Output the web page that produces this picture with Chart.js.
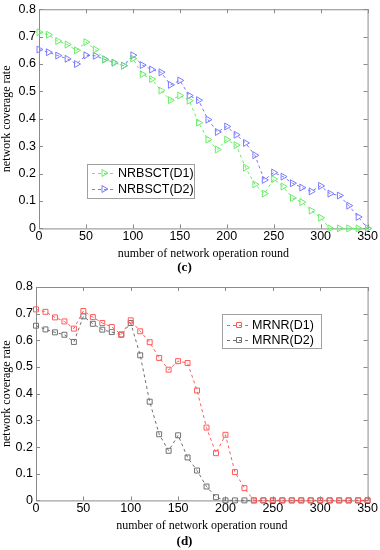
<!DOCTYPE html>
<html>
<head>
<meta charset="utf-8">
<script src="https://cdn.jsdelivr.net/npm/chart.js@4.4.1/dist/chart.umd.min.js"></script>
<style>
  body { margin: 0; background: #fff; }
  canvas { display: block; }
</style>
</head>
<body>
<canvas id="chartC" width="380" height="275"></canvas>
<canvas id="chartD" width="380" height="275"></canvas>
<script>
// rounds (x values), shared by both panels
const rounds = [0, 10, 20, 30, 40, 50, 60, 70, 80, 90, 100, 110, 120, 130, 140, 150, 160, 170,
  180, 190, 200, 210, 220, 230, 240, 250, 260, 270, 280, 290, 300, 310, 320, 330, 340, 350];

// panel (c)
const nrbsctD1 = [0.716, 0.707, 0.684, 0.671, 0.650, 0.680, 0.653, 0.617, 0.605, 0.594, 0.620, 0.563,
  0.545, 0.503, 0.468, 0.485, 0.466, 0.386, 0.324, 0.288, 0.324, 0.304, 0.222, 0.161, 0.127, 0.180,
  0.153, 0.111, 0.096, 0.065, 0.039, 0, 0, 0, 0, 0];
const nrbsctD2 = [0.653, 0.643, 0.631, 0.619, 0.600, 0.632, 0.630, 0.617, 0.605, 0.594, 0.632, 0.596,
  0.580, 0.570, 0.524, 0.540, 0.485, 0.468, 0.397, 0.352, 0.372, 0.342, 0.312, 0.267, 0.177, 0.204,
  0.189, 0.165, 0.149, 0.135, 0.155, 0.127, 0.120, 0.083, 0.042, 0];

// panel (d)
const mrnrD1 = [0.716, 0.707, 0.686, 0.671, 0.644, 0.710, 0.687, 0.665, 0.650, 0.622, 0.675, 0.634,
  0.593, 0.534, 0.490, 0.522, 0.515, 0.412, 0.273, 0.177, 0.246, 0.106, 0.046, 0, 0, 0,
  0, 0, 0, 0, 0, 0, 0, 0, 0, 0];
const mrnrD2 = [0.655, 0.641, 0.630, 0.621, 0.594, 0.690, 0.662, 0.640, 0.631, 0.621, 0.665, 0.544,
  0.370, 0.248, 0.186, 0.244, 0.161, 0.112, 0.052, 0.012, 0, 0, 0, 0, 0, 0,
  0, 0, 0, 0, 0, 0, 0, 0, 0, 0];

const xTickLabels = ['0', '50', '100', '150', '200', '250', '300', '350'];
const yTickLabels = ['0', '0.1', '0.2', '0.3', '0.4', '0.5', '0.6', '0.7', '0.8'];

function toPoints(values) {
  return values.map((v, i) => ({ x: rounds[i], y: v }));
}

// MATLAB-like box with inward ticks on all sides
const frameBox = {
  id: 'frameBox',
  beforeDatasetsDraw(chart) {
    const { ctx, chartArea: a, scales } = chart;
    ctx.save();
    ctx.strokeStyle = '#8a8a8a';
    ctx.lineWidth = 1;
    ctx.strokeRect(a.left + 0.5, a.top + 0.5, a.right - a.left, a.bottom - a.top);
    const len = 4;
    ctx.beginPath();
    scales.x.ticks.forEach(t => {
      const px = Math.round(scales.x.getPixelForValue(t.value)) + 0.5;
      ctx.moveTo(px, a.bottom); ctx.lineTo(px, a.bottom - len);
      ctx.moveTo(px, a.top); ctx.lineTo(px, a.top + len);
    });
    scales.y.ticks.forEach(t => {
      const py = Math.round(scales.y.getPixelForValue(t.value)) + 0.5;
      ctx.moveTo(a.left, py); ctx.lineTo(a.left + len, py);
      ctx.moveTo(a.right, py); ctx.lineTo(a.right - len, py);
    });
    ctx.stroke();
    ctx.restore();
  }
};

// legend drawn inside the plot area with a light frame
const boxLegend = {
  id: 'boxLegend',
  afterDatasetsDraw(chart, args, opts) {
    const { ctx } = chart;
    ctx.save();
    ctx.fillStyle = '#fff';
    ctx.fillRect(opts.x, opts.y, opts.w, opts.h);
    ctx.strokeStyle = '#a0a0a0';
    ctx.lineWidth = 1;
    ctx.strokeRect(opts.x + 0.5, opts.y + 0.5, opts.w, opts.h);
    chart.data.datasets.forEach((ds, i) => {
      const cy = opts.y + opts.rowTop + i * opts.rowGap;
      ctx.strokeStyle = ds.borderColor;
      ctx.lineWidth = 1;
      ctx.setLineDash([3, 3]);
      ctx.beginPath();
      ctx.moveTo(opts.x + 5, cy + 0.5);
      ctx.lineTo(opts.x + 28, cy + 0.5);
      ctx.stroke();
      ctx.setLineDash([]);
      ctx.fillStyle = 'rgba(0,0,0,0)';
      Chart.helpers.drawPoint(ctx, {
        pointStyle: ds.pointStyle, radius: ds.pointRadius, rotation: ds.pointRotation || 0, borderWidth: 1
      }, opts.x + 17, cy);
      ctx.fillStyle = '#000';
      ctx.font = '12.5px "Liberation Sans", Arial, sans-serif';
      ctx.textBaseline = 'middle';
      ctx.fillText(ds.label, opts.textX, cy + 1);
    });
    ctx.restore();
  }
};

function makeChart(id, datasets, cfg) {
  return new Chart(document.getElementById(id), {
    type: 'line',
    data: { datasets: datasets },
    plugins: [frameBox, boxLegend],
    options: {
      responsive: false,
      animation: false,
      layout: { padding: { top: cfg.padTop, right: 11, left: 0, bottom: 0 } },
      plugins: {
        legend: { display: false },
        tooltip: { enabled: false },
        title: {
          display: true,
          position: 'bottom',
          text: cfg.caption,
          color: '#000',
          padding: { top: 0, bottom: cfg.captionPad },
          font: { family: '"Liberation Serif", "Times New Roman", serif', size: 13, weight: 'bold' }
        },
        boxLegend: cfg.legend
      },
      scales: {
        x: {
          type: 'linear',
          min: 0,
          max: 350,
          afterFit: s => { s.height = cfg.xHeight; },
          afterBuildTicks: s => { s.ticks = xTickLabels.map(v => ({ value: Number(v) })); },
          grid: { display: false, drawTicks: false },
          border: { display: false },
          ticks: {
            padding: 2,
            color: '#000',
            maxRotation: 0,
            autoSkip: false,
            font: { family: '"Liberation Sans", Arial, sans-serif', size: 12.5, lineHeight: 1 },
            callback: (v, i) => xTickLabels[i]
          },
          title: {
            display: true,
            text: 'number of network operation round',
            color: '#000',
            padding: { top: 0, bottom: cfg.xTitlePad },
            font: { family: '"Liberation Serif", "Times New Roman", serif', size: 12 }
          }
        },
        y: {
          min: 0,
          max: 0.8,
          afterFit: s => { s.width = cfg.yWidth; },
          afterBuildTicks: s => { s.ticks = yTickLabels.map(v => ({ value: Number(v) })); },
          grid: { display: false, drawTicks: false },
          border: { display: false },
          ticks: {
            padding: 3,
            color: '#000',
            autoSkip: false,
            font: { family: '"Liberation Sans", Arial, sans-serif', size: 12.5, lineHeight: 1 },
            callback: (v, i) => yTickLabels[i]
          },
          title: {
            display: true,
            text: 'network coverage rate',
            color: '#000',
            padding: { top: 0, bottom: 0 },
            font: { family: '"Liberation Serif", "Times New Roman", serif', size: 12 }
          }
        }
      }
    }
  });
}

function series(label, values, color, style, rotation) {
  return {
    label: label,
    data: toPoints(values),
    borderColor: color,
    backgroundColor: 'rgba(0,0,0,0)',
    borderWidth: 1,
    borderDash: [3, 3],
    pointStyle: style,
    pointRotation: rotation,
    pointRadius: style === 'rect' ? 3.5 : 4,
    pointBorderWidth: 1,
    pointBorderColor: color,
    pointBackgroundColor: 'rgba(0,0,0,0)',
    tension: 0,
    clip: false
  };
}

makeChart('chartC', [
  series('NRBSCT(D1)', nrbsctD1, '#66ee66', 'triangle', 90),
  series('NRBSCT(D2)', nrbsctD2, '#7a7aff', 'triangle', 90)
], {
  caption: '(c)', padTop: 0, xHeight: 31, yWidth: 39, captionPad: 0, xTitlePad: -2,
  legend: { x: 87, y: 164, w: 107, h: 34, rowTop: 9, rowGap: 16, textX: 118 }
});

makeChart('chartD', [
  series('MRNR(D1)', mrnrD1, '#ff5a5a', 'rect', 0),
  series('MRNR(D2)', mrnrD2, '#707070', 'rect', 0)
], {
  caption: '(d)', padTop: 12, xHeight: 33, yWidth: 36, captionPad: 1, xTitlePad: 0,
  legend: { x: 222, y: 39, w: 99, h: 34, rowTop: 11, rowGap: 15, textX: 252 }
});
</script>
</body>
</html>
